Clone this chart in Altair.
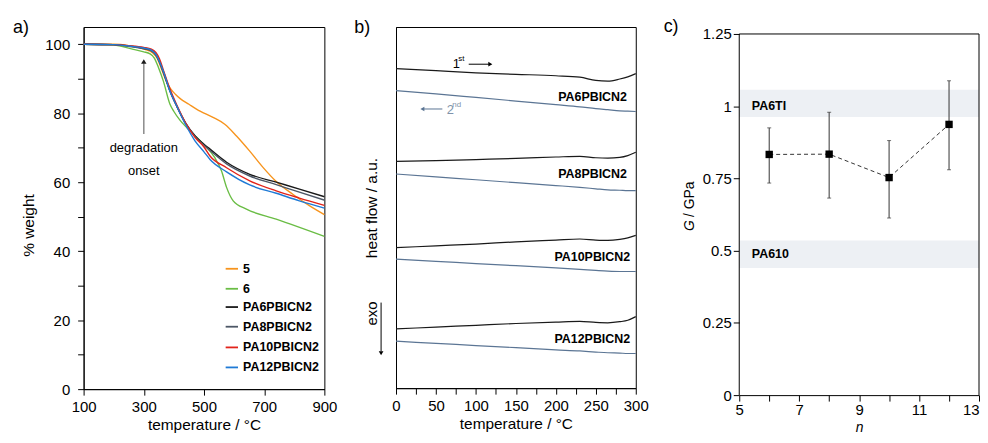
import altair as alt
import pandas as pd

FONT = "Liberation Sans, Arial, sans-serif"

# ---------------- panel a: TGA ----------------
series_a = ["5", "6", "PA6PBICN2", "PA8PBICN2", "PA10PBICN2", "PA12PBICN2"]
colors_a = ["#f7941d", "#6abd45", "#1a1a1a", "#4d5766", "#e2231a", "#1f7ad6"]

t_5 = [100, 200, 250, 300, 330, 345, 360, 375, 390, 405, 420, 450, 487, 530, 569, 608, 652, 696, 740, 795, 850, 900]
w_5 = [100, 100, 99.6, 98.6, 97.5, 95.8, 92.5, 89.2, 87, 85.5, 84.3, 82.6, 80.6, 78.8, 76.8, 73.4, 69, 64.3, 60.2, 56.5, 53.2, 50.6]
t_6 = [100, 200, 265, 300, 321, 335, 349, 365, 387, 400, 420, 443, 470, 498, 536, 558, 575, 597, 641, 740, 900]
w_6 = [100, 99.8, 98.5, 97.8, 97.2, 96, 93.2, 89.3, 82.6, 80.5, 78, 75.8, 73.5, 71, 67.1, 63.3, 58.5, 54.6, 52.2, 49.3, 44.3]
t_pa = [100, 200, 250, 300, 325, 340, 352, 365, 387, 410, 440, 470, 500, 520, 575, 652, 740, 817, 900]
w_pa6 = [100, 99.9, 99.5, 98.8, 98.2, 97, 95, 92, 86.5, 82, 77, 73.5, 71, 69.6, 65.8, 62.3, 60, 58, 55.8]
w_pa8 = [100, 99.9, 99.4, 98.7, 98.1, 96.9, 94.8, 91.8, 86.4, 81.9, 76.9, 73.3, 70.7, 69.2, 65.3, 61.8, 59.3, 57.1, 54.8]
w_pa10 = [100, 99.9, 99.6, 99.1, 98.6, 97.6, 95.8, 92.5, 87, 82.3, 77, 73, 70.2, 67.6, 64.2, 60.4, 57.5, 55.4, 53.3]
w_pa12 = [100, 99.9, 99.5, 98.9, 98.3, 97.1, 95, 92.2, 86.4, 82, 76.5, 72, 68.8, 66.6, 63, 59.2, 56.8, 54.6, 52.5]

legend_y_a = [34.9, 29.1, 23.8, 18.1, 12.1, 6.3]

rows = []
for name, ts, ws in [("5", t_5, w_5), ("6", t_6, w_6), ("PA6PBICN2", t_pa, w_pa6),
                     ("PA8PBICN2", t_pa, w_pa8), ("PA10PBICN2", t_pa, w_pa10),
                     ("PA12PBICN2", t_pa, w_pa12)]:
    for t, w in zip(ts, ws):
        rows.append({"s": name, "x": t, "y": w})
df_a = pd.DataFrame(rows)

TOP = 17


def frame_bounds(left, right, top, bottom):
    # invisible diagonal rule fixing the panel's layout bounds (pixels)
    return alt.Chart(pd.DataFrame({"t": [1]})).mark_rule(opacity=0, strokeOpacity=0).encode(
        x=alt.value(left), x2=alt.value(right), y=alt.value(top), y2=alt.value(bottom))


xa = alt.X("x:Q", scale=alt.Scale(domain=[100, 900], nice=False),
           axis=alt.Axis(values=list(range(100, 901, 100)),
                         labelExpr="datum.value % 200 == 100 ? datum.label : ''",
                         title="temperature / °C", labelPadding=4, titlePadding=4))
ya = alt.Y("y:Q", scale=alt.Scale(domain=[0, 105], nice=False),
           axis=alt.Axis(values=list(range(0, 101, 10)),
                         labelExpr="datum.value % 20 == 0 ? datum.label : ''",
                         title="% weight", labelPadding=8, titlePadding=8, titleY=199))
col_a = alt.Color("s:N", scale=alt.Scale(domain=series_a, range=colors_a), legend=None)

lines_a = alt.Chart(df_a).mark_line(strokeWidth=1.4, interpolate="monotone").encode(x=xa, y=ya, color=col_a)

df_leg = pd.DataFrame({"s": series_a, "y": legend_y_a, "x": [572] * 6, "x2": [613] * 6, "xt": [630] * 6})
leg_rules = alt.Chart(df_leg).mark_rule(strokeWidth=1.8).encode(x=xa, x2="x2:Q", y=ya, color=col_a)
leg_text = alt.Chart(df_leg).mark_text(align="left", baseline="middle", font=FONT, fontSize=12.5,
                                       fontWeight="bold", color="black").encode(
    x=alt.X("xt:Q"), y=ya, text="s:N")

df_arrow_a = pd.DataFrame({"x": [300], "y": [74], "y2": [94.5]})
arrow_a = alt.Chart(df_arrow_a).mark_rule(color="#8a8a8a", strokeWidth=1.5).encode(x=xa, y=ya, y2="y2:Q")
head_a = alt.Chart(pd.DataFrame({"x": [300], "y": [95]})).mark_point(
    shape="triangle-up", filled=True, color="#1a1a1a", size=30, opacity=1).encode(x=xa, y=ya)
df_note = pd.DataFrame({"x": [300, 300], "y": [68.7, 62.1], "t": ["degradation", "onset"]})
note_a = alt.Chart(df_note).mark_text(font=FONT, fontSize=13, color="black", align="center",
                                      baseline="alphabetic").encode(x=xa, y=ya, text="t:N")
lab_a = alt.Chart(pd.DataFrame({"t": ["a)"]})).mark_text(
    font=FONT, fontSize=18, align="left", baseline="alphabetic", color="black").encode(
    x=alt.value(-71), y=alt.value(6), text="t:N")

panel_a = alt.layer(lines_a, leg_rules, leg_text, arrow_a, head_a, note_a, lab_a,
                    frame_bounds(-75, 242 + 15, -TOP, 364 + 44)).properties(width=242, height=364)

# ---------------- panel b: DSC ----------------
samples_b = ["PA6PBICN2", "PA8PBICN2", "PA10PBICN2", "PA12PBICN2"]
temps_b = [0, 50, 100, 150, 200, 230, 250, 265, 280, 290, 300]
pa6_1st = [88.5, 87.9, 87.3, 86.9, 86.5, 86.1, 85.2, 85.0, 85.6, 86.2, 87.1]
pa6_2nd = [82.4, 81.5, 80.5, 79.5, 78.5, 77.9, 77.4, 77.1, 76.8, 76.7, 76.6]
pa8_1st = [62.8, 63.0, 63.3, 63.6, 64.0, 64.2, 63.8, 63.7, 63.9, 64.4, 65.3]
pa8_2nd = [59.3, 58.5, 57.7, 56.9, 56.1, 55.6, 55.2, 54.9, 54.8, 54.7, 54.7]
pa10_1st = [38.9, 39.4, 39.9, 40.5, 41.0, 41.3, 41.0, 40.9, 41.2, 41.6, 42.3]
pa10_2nd = [35.7, 35.1, 34.5, 33.9, 33.3, 32.9, 32.6, 32.4, 32.3, 32.3, 32.3]
pa12_1st = [16.4, 16.9, 17.4, 17.9, 18.3, 18.5, 18.2, 18.1, 18.4, 18.8, 19.8]
pa12_2nd = [13.0, 12.4, 11.8, 11.2, 10.6, 10.3, 10.0, 9.8, 9.7, 9.6, 9.6]
label_y_b = [80.7, 59.3, 36.2, 13.7]
label_x_b = [289, 289, 293, 293]

rows1, rows2 = [], []
for smp, r1, r2 in zip(samples_b, [pa6_1st, pa8_1st, pa10_1st, pa12_1st],
                       [pa6_2nd, pa8_2nd, pa10_2nd, pa12_2nd]):
    for t, v in zip(temps_b, r1):
        rows1.append({"k": smp, "x": t, "y": v})
    for t, v in zip(temps_b, r2):
        rows2.append({"k": smp, "x": t, "y": v})
df_b1 = pd.DataFrame(rows1)
df_b2 = pd.DataFrame(rows2)

xb = alt.X("x:Q", scale=alt.Scale(domain=[0, 300], nice=False),
           axis=alt.Axis(values=list(range(0, 301, 25)),
                         labelExpr="datum.value % 50 == 0 ? datum.label : ''",
                         title="temperature / °C", labelPadding=4, titlePadding=4))
yb = alt.Y("y:Q", scale=alt.Scale(domain=[0, 100], nice=False),
           axis=alt.Axis(labels=False, ticks=False, title="heat flow / a.u.", titlePadding=17))

lines_b1 = alt.Chart(df_b1).mark_line(strokeWidth=1.2, interpolate="monotone", color="#1a1a1a").encode(
    x=xb, y=yb, detail="k:N")
lines_b2 = alt.Chart(df_b2).mark_line(strokeWidth=1.2, interpolate="monotone", color="#5b7594").encode(
    x=xb, y=yb, detail="k:N")
df_lab_b = pd.DataFrame({"x": label_x_b, "y": label_y_b, "t": samples_b})
lab_b_txt = alt.Chart(df_lab_b).mark_text(font=FONT, fontSize=12.5, fontWeight="bold", align="right",
                                          baseline="middle", color="black").encode(x=xb, y=yb, text="t:N")

df_t1 = pd.DataFrame({"x": [71], "y": [88.7], "t": ["1"]})
t1 = alt.Chart(df_t1).mark_text(font=FONT, fontSize=13, align="left", baseline="alphabetic",
                                color="black").encode(x=xb, y=yb, text="t:N")
df_t1s = pd.DataFrame({"x": [78], "y": [90.6], "t": ["st"]})
t1s = alt.Chart(df_t1s).mark_text(font=FONT, fontSize=8, align="left", baseline="alphabetic",
                                  color="black").encode(x=xb, y=yb, text="t:N")
ar1 = alt.Chart(pd.DataFrame({"x": [91], "x2": [117], "y": [89.7]})).mark_rule(
    color="black", strokeWidth=1).encode(x=xb, x2="x2:Q", y=yb)
ar1h = alt.Chart(pd.DataFrame({"x": [118], "y": [89.7]})).mark_point(
    shape="triangle-right", filled=True, color="black", size=22, opacity=1).encode(x=xb, y=yb)

df_t2 = pd.DataFrame({"x": [63.4], "y": [76.0], "t": ["2"]})
t2 = alt.Chart(df_t2).mark_text(font=FONT, fontSize=13, align="left", baseline="alphabetic",
                                color="#7f93ab").encode(x=xb, y=yb, text="t:N")
df_t2s = pd.DataFrame({"x": [70.5], "y": [77.9], "t": ["nd"]})
t2s = alt.Chart(df_t2s).mark_text(font=FONT, fontSize=8, align="left", baseline="alphabetic",
                                  color="#7f93ab").encode(x=xb, y=yb, text="t:N")
ar2 = alt.Chart(pd.DataFrame({"x": [34], "x2": [58], "y": [77.3]})).mark_rule(
    color="#5b7594", strokeWidth=1).encode(x=xb, x2="x2:Q", y=yb)
ar2h = alt.Chart(pd.DataFrame({"x": [33], "y": [77.3]})).mark_point(
    shape="triangle-left", filled=True, color="#5b7594", size=22, opacity=1).encode(x=xb, y=yb)

exo_txt = alt.Chart(pd.DataFrame({"t": ["exo"]})).mark_text(
    font=FONT, fontSize=15, angle=270, align="center", baseline="middle", color="black").encode(
    x=alt.value(-24), y=alt.value(288), text="t:N")
exo_rule = alt.Chart(pd.DataFrame({"t": [1]})).mark_rule(color="black", strokeWidth=1).encode(
    x=alt.value(-15), y=alt.value(277), y2=alt.value(326))
exo_head = alt.Chart(pd.DataFrame({"t": [1]})).mark_point(
    shape="triangle-down", filled=True, color="black", size=22, opacity=1).encode(
    x=alt.value(-15), y=alt.value(328))
lab_b = alt.Chart(pd.DataFrame({"t": ["b)"]})).mark_text(
    font=FONT, fontSize=18, align="left", baseline="alphabetic", color="black").encode(
    x=alt.value(-42), y=alt.value(6), text="t:N")

panel_b = alt.layer(lines_b1, lines_b2, lab_b_txt, t1, t1s, ar1, ar1h, t2, t2s, ar2, ar2h,
                    exo_txt, exo_rule, exo_head, lab_b,
                    frame_bounds(-55, 241 + 20, -TOP, 363 + 44)).properties(width=241, height=363)

# ---------------- panel c: G modulus ----------------
n_vals = [6, 8, 10, 12]
g_vals = [0.833, 0.834, 0.753, 0.937]
g_low = [0.734, 0.682, 0.613, 0.780]
g_high = [0.925, 0.979, 0.881, 1.088]
band_names = ["PA6TI", "PA610"]
band_low = [0.963, 0.440]
band_high = [1.057, 0.535]
band_label_y = [1.0, 0.487]

C_H = 370  # 7 px blank strip above the 1.25 frame line
xc = alt.X("x:Q", scale=alt.Scale(domain=[5, 13], nice=False),
           axis=alt.Axis(values=list(range(5, 14)),
                         labelExpr="datum.value % 2 == 1 ? datum.label : ''",
                         labelAlign={"condition": {"test": "datum.value == 13", "value": "right"},
                                     "value": "center"},
                         title="n", titleFontStyle="italic", titleFontSize=14,
                         titleBaseline="alphabetic", titleY=37,
                         labelPadding=1))
yc = alt.Y("y:Q", scale=alt.Scale(domain=[0, 1.25 * C_H / 363], nice=False),
           axis=alt.Axis(values=[0, 0.25, 0.5, 0.75, 1, 1.25], domain=False,
                         labelExpr="format(datum.value, '.3~g')", title=None, labelPadding=2))

df_band = pd.DataFrame({"y": band_low, "y2": band_high, "name": band_names, "ly": band_label_y})
bands = alt.Chart(df_band).mark_rect(color="#edf0f4").encode(
    x=alt.value(0), x2=alt.value(241), y=yc, y2="y2:Q")
band_txt = alt.Chart(pd.DataFrame({"x": [5.42, 5.42], "y": band_label_y, "t": band_names})).mark_text(
    font=FONT, fontSize=12.5, fontWeight="bold", align="left", baseline="middle", color="black").encode(
    x=xc, y=yc, text="t:N")

frame_c_h = alt.Chart(pd.DataFrame({"x": [5], "x2": [13], "y": [1.25]})).mark_rule(
    color="black", strokeWidth=1).encode(x=xc, x2="x2:Q", y=yc)
frame_c_v = alt.Chart(pd.DataFrame({"x": [5, 13], "y": [0, 0], "y2": [1.25, 1.25]})).mark_rule(
    color="black", strokeWidth=1).encode(x=xc, y=yc, y2="y2:Q")

df_c = pd.DataFrame({"x": n_vals, "y": g_vals, "lo": g_low, "hi": g_high})
dash = alt.Chart(df_c).mark_line(strokeDash=[4, 3], color="#333333", strokeWidth=1).encode(x=xc, y=yc)
err = alt.Chart(df_c).mark_rule(color="#333333", strokeWidth=1).encode(
    x=xc, y=alt.Y("lo:Q"), y2="hi:Q")
cap_lo = alt.Chart(df_c).mark_tick(orient="horizontal", color="#333333", thickness=1, size=4).encode(
    x=xc, y=alt.Y("lo:Q"))
cap_hi = alt.Chart(df_c).mark_tick(orient="horizontal", color="#333333", thickness=1, size=4).encode(
    x=xc, y=alt.Y("hi:Q"))
pts = alt.Chart(df_c).mark_point(shape="square", filled=True, color="black", size=55, opacity=1).encode(
    x=xc, y=yc)

g_it = alt.Chart(pd.DataFrame({"t": ["G"]})).mark_text(
    font=FONT, fontSize=14, fontStyle="italic", angle=270, align="left", baseline="middle",
    color="black").encode(x=alt.value(-49), y=alt.value(205), text="t:N")
g_rest = alt.Chart(pd.DataFrame({"t": ["/ GPa"]})).mark_text(
    font=FONT, fontSize=14, angle=270, align="left", baseline="middle",
    color="black").encode(x=alt.value(-49), y=alt.value(191), text="t:N")
lab_c = alt.Chart(pd.DataFrame({"t": ["c)"]})).mark_text(
    font=FONT, fontSize=18, align="left", baseline="alphabetic", color="black").encode(
    x=alt.value(-76), y=alt.value(5), text="t:N")

panel_c = alt.layer(bands, band_txt, frame_c_h, frame_c_v, dash, err, cap_lo, cap_hi, pts,
                    g_it, g_rest, lab_c,
                    frame_bounds(-82, 241, -TOP, C_H + 38)).properties(
    width=241, height=C_H, view=alt.ViewBackground(stroke="transparent"))

chart = alt.hconcat(panel_a, panel_b, panel_c, spacing=0).properties(
    padding={"left": 0, "top": 0, "right": 0, "bottom": 0}
).configure(background="white").configure_view(stroke="black", strokeWidth=1).configure_axis(
    grid=False, domainColor="black", tickColor="black", labelColor="black", titleColor="black",
    labelFont=FONT, titleFont=FONT, labelFontSize=15, titleFontSize=15.5, titleFontWeight="normal",
    tickSize=6, domainWidth=1, tickWidth=1, labelFlush=False
)

chart.save("out.html", embed_options={"renderer": "svg", "actions": False})
